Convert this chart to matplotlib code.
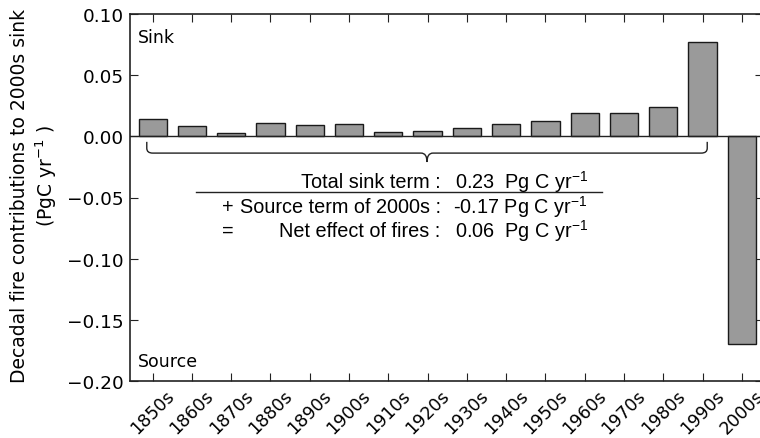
import matplotlib
matplotlib.use("Agg")
import matplotlib.pyplot as plt
from matplotlib.path import Path
from matplotlib.patches import PathPatch
import numpy as np

decades = ["1850s", "1860s", "1870s", "1880s", "1890s", "1900s", "1910s", "1920s",
           "1930s", "1940s", "1950s", "1960s", "1970s", "1980s", "1990s", "2000s"]
contrib = [0.0141, 0.0082, 0.0027, 0.0106, 0.0096, 0.0100, 0.0038, 0.0047,
           0.0068, 0.0098, 0.0125, 0.0190, 0.0188, 0.0237, 0.0774, -0.1696]
yticks = [0.10, 0.05, 0.00, -0.05, -0.10, -0.15, -0.20]

sink_line = ["Total sink term :", "0.23  Pg C yr$\\mathregular{^{-1}}$"]
source_line = ["Source term of 2000s :", "-0.17 Pg C yr$\\mathregular{^{-1}}$"]
net_line = ["Net effect of fires :", "0.06  Pg C yr$\\mathregular{^{-1}}$"]

plt.rcParams['font.family'] = ['DejaVu Sans']

fig = plt.figure(figsize=(7.6, 4.39), dpi=100)
ax = fig.add_axes([129.5 / 760, 57 / 439, (763 - 129.5) / 760, 367 / 439])

x = np.arange(len(decades))
ax.bar(x, contrib, width=0.72, color="#9a9a9a", edgecolor="#1a1a1a", linewidth=1.0, zorder=2)
ax.axhline(0, color="#222222", linewidth=1.0, zorder=3)

ax.set_xlim(-0.59, 15.54)
ax.set_ylim(-0.20, 0.10)
ax.set_yticks(yticks)
ax.set_yticklabels(["%.2f" % v if v >= 0 else "\u2212%.2f" % abs(v) for v in yticks])
ax.set_xticks(x)
ax.set_xticklabels(decades, rotation=45, ha="center")
ax.tick_params(direction="in", top=True, right=True, length=5.5, width=0.8,
               color="#222222")
ax.tick_params(axis="y", labelsize=13.3, pad=4)
ax.tick_params(axis="x", labelsize=12.6, pad=4)
for s in ax.spines.values():
    s.set_linewidth(1.2)
    s.set_color("#222222")

ax.text(0.0134, 0.937, "Sink", transform=ax.transAxes, fontsize=12.5, va="center", ha="left")
ax.text(0.0134, 0.0545, "Source", transform=ax.transAxes, fontsize=12.5, va="center", ha="left")

fig.text(20 / 760, 1 - 196 / 439, "Decadal fire contributions to 2000s sink",
         rotation=90, fontsize=13.5, ha="center", va="center")
fig.text(46 / 760, 1 - 176 / 439, "(PgC yr$^{-1}$ )",
         rotation=90, fontsize=13.5, ha="center", va="center")

# curly brace under the sink bars
n_sink = len(decades) - 1
xl, xr = -0.15, n_sink - 1 + 0.12
xm = (xl + xr) / 2
y_end, y_h, y_tip = -0.0045, -0.0137, -0.021
r = 0.15
verts = [(xl, y_end), (xl, y_h + 0.004), (xl, y_h), (xl + r, y_h),
         (xm - r, y_h), (xm, y_h), (xm, y_tip),
         (xm, y_h), (xm + r, y_h),
         (xr - r, y_h), (xr, y_h), (xr, y_h + 0.004), (xr, y_end)]
codes = [Path.MOVETO, Path.LINETO, Path.CURVE3, Path.CURVE3,
         Path.LINETO, Path.CURVE3, Path.CURVE3,
         Path.CURVE3, Path.CURVE3,
         Path.LINETO, Path.CURVE3, Path.CURVE3, Path.LINETO]
ax.add_patch(PathPatch(Path(verts, codes), facecolor="none", edgecolor="#222222", lw=1.0))

afont = dict(family="Liberation Sans", fontsize=14.3)
xc = (440.5 - 152.7) / 39.27
xv = (454.5 - 152.7) / 39.27
xs = (222 - 152.7) / 39.27
def ydat(py):
    return (137.3 - py) / 1223.3
ax.text(xc, ydat(182), sink_line[0], ha="right", va="center", **afont)
ax.text(xv, ydat(182), sink_line[1], ha="left", va="center", **afont)
ax.plot([(196 - 152.7) / 39.27, (602 - 152.7) / 39.27], [ydat(192.5)] * 2,
        color="#222222", lw=1.0)
ax.text(xs, ydat(207), "+", ha="left", va="center", **afont)
ax.text(xc, ydat(207), source_line[0], ha="right", va="center", **afont)
ax.text(xv - 0.05, ydat(207), source_line[1], ha="left", va="center", **afont)
ax.text(xs, ydat(231), "=", ha="left", va="center", **afont)
ax.text(xc, ydat(231), net_line[0], ha="right", va="center", **afont)
ax.text(xv, ydat(231), net_line[1], ha="left", va="center", **afont)

fig.savefig("out.png", dpi=100)
